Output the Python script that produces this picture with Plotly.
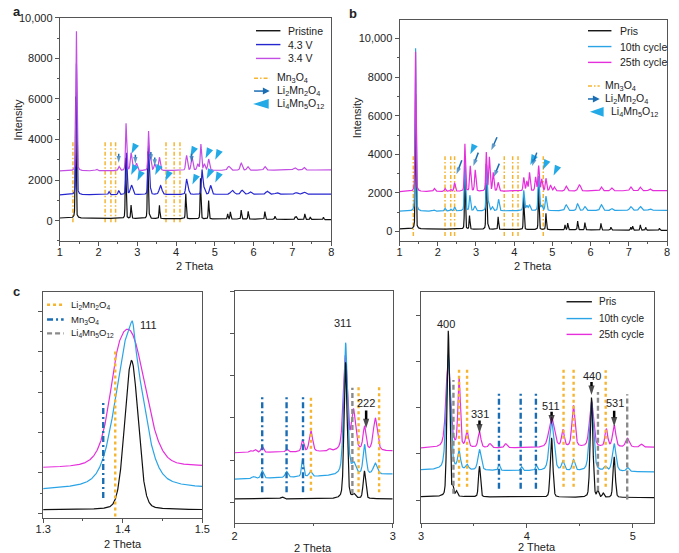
import numpy as np
import plotly.graph_objects as go

W, H = 679, 553
FONT = "Liberation Sans, Arial, sans-serif"

BLACK = "#111111"; BLUE43 = "#2626cf"; VIOL = "#c34ee3"
CYAN = "#2aa4e6"; MAG = "#e62fdc"
ORANGE = "#f6b530"; DBLUE = "#1a6db3"; WEDGE = "#22a9e6"; GRAY = "#8a8a8a"

# ---------------- Panel a data ----------------
a_names = ["Pristine", "4.3 V", "3.4 V"]
a_pri_base = [130, 50]
a_pri_pos = [1.41, 2.70, 2.84, 3.27, 3.31, 3.57, 4.25, 4.63, 4.84, 5.33, 5.40, 5.68, 5.86, 6.29, 6.55, 7.07, 7.10, 7.32, 7.46, 7.80]
a_pri_h = [6000, 3000, 650, 3300, 150, 650, 1250, 2000, 900, 250, 350, 450, 380, 380, 150, 130, 150, 280, 120, 110]
a_pri_w = [0.025] * 20

a_43_base = [1270, 1310]
a_43_pos = [1.43, 2.27, 2.52, 2.72, 2.85, 3.29, 3.33, 3.60, 4.27, 4.32, 4.67, 4.72, 4.89, 5.45, 5.70, 5.91, 6.35, 6.60, 7.10, 7.30]
a_43_h = [6480, 150, 200, 2060, 460, 2400, 300, 440, 740, 200, 1200, 300, 440, 200, 200, 120, 150, 80, 80, 100]
a_43_w = [0.03, 0.04, 0.04, 0.035, 0.07, 0.035, 0.04, 0.08, 0.05, 0.05, 0.04, 0.05, 0.06, 0.1, 0.08, 0.08, 0.08, 0.08, 0.08, 0.08]

a_34_base = [2450, 2500]
a_34_pos = [1.43, 1.95, 2.53, 2.71, 2.84, 2.98, 3.29, 3.34, 3.45, 3.57, 4.27, 4.41, 4.56, 4.64, 4.73, 4.84, 5.36, 5.68, 5.85, 6.29, 7.06, 7.30]
a_34_h = [6890, 80, 200, 2330, 870, 350, 1920, 600, 300, 650, 740, 670, 300, 1280, 300, 550, 200, 350, 180, 180, 120, 130]
a_34_w = [0.03, 0.05, 0.05, 0.035, 0.05, 0.05, 0.035, 0.04, 0.05, 0.05, 0.05, 0.05, 0.05, 0.04, 0.05, 0.05, 0.08, 0.06, 0.06, 0.06, 0.08, 0.06]

a_mn3o4_pos = [1.34, 2.17, 2.32, 2.44, 3.74, 3.95, 4.10]
a_mn3o4_y = [-80, 3950]
a_li2_tip_x = [2.52, 2.95, 3.35, 3.45, 4.40]
a_li2_tip_y = [2860, 2810, 2940, 2700, 2860]
a_li2_tail_y = [3300, 3250, 3380, 3120, 3300]
a_li4_x = [2.85, 4.37, 4.76, 5.01, 2.84, 3.00, 3.46, 3.72, 4.42, 4.79, 5.01]
a_li4_y = [3300, 3150, 3080, 3000, 2250, 1950, 2250, 1950, 1780, 2050, 1880]

# ---------------- Panel b data ----------------
b_names = ["Pris", "10th cycle", "25th cycle"]
b_pri_base = [140, 60]
b_pri_pos = [1.42, 2.71, 2.83, 3.27, 3.31, 3.58, 4.25, 4.64, 4.83, 5.33, 5.40, 5.66, 5.85, 6.27, 6.53, 7.05, 7.10, 7.30, 7.44, 7.80]
b_pri_h = [7000, 3200, 700, 3400, 200, 650, 1700, 2300, 850, 250, 350, 450, 380, 350, 150, 150, 200, 280, 150, 100]
b_pri_w = [0.025] * 20

b_10_base = [1050, 1100]
b_10_pos = [1.42, 1.90, 2.19, 2.34, 2.44, 2.71, 2.84, 2.97, 3.28, 3.33, 3.43, 3.59, 4.25, 4.33, 4.40, 4.64, 4.72, 4.83, 5.36, 5.66, 5.85, 6.28, 6.55, 7.05, 7.30, 7.55]
b_10_h = [8450, 60, 150, 100, 200, 2650, 800, 250, 2350, 400, 200, 600, 1050, 250, 300, 1800, 250, 750, 300, 350, 200, 300, 100, 200, 200, 80]
b_10_w = [0.03, 0.05, 0.04, 0.04, 0.04, 0.035, 0.04, 0.05, 0.035, 0.04, 0.05, 0.045, 0.04, 0.05, 0.05, 0.04, 0.05, 0.045, 0.07, 0.06, 0.06, 0.07, 0.06, 0.07, 0.07, 0.07]

b_25_base = [2070, 2120]
b_25_pos = [1.42, 1.91, 2.19, 2.34, 2.44, 2.71, 2.85, 2.98, 3.27, 3.35, 3.45, 3.58, 4.25, 4.33, 4.40, 4.56, 4.64, 4.72, 4.83, 4.95, 5.05, 5.36, 5.68, 5.72, 6.28, 6.55, 7.05, 7.30, 7.55]
b_25_h = [7250, 150, 150, 100, 450, 2450, 1300, 1100, 2000, 1750, 950, 450, 700, 500, 950, 700, 1300, 600, 650, 300, 200, 250, 250, 250, 200, 150, 200, 180, 100]
b_25_w = [0.03, 0.05, 0.04, 0.04, 0.04, 0.035, 0.04, 0.04, 0.035, 0.04, 0.04, 0.045, 0.04, 0.04, 0.04, 0.04, 0.04, 0.04, 0.04, 0.05, 0.05, 0.06, 0.05, 0.05, 0.06, 0.06, 0.06, 0.06, 0.06]

b_mn3o4_pos = [1.36, 2.19, 2.34, 2.44, 3.74, 3.96, 4.10, 4.76]
b_mn3o4_y = [-230, 3900]
b_li2_tip_x = [2.49, 2.93, 3.40, 3.47, 4.47]
b_li2_tip_y = [2970, 3400, 4210, 2840, 3400]
b_li2_tail_x = [2.63, 3.06, 3.55, 3.61, 4.59]
b_li2_tail_y = [3690, 4090, 4890, 3520, 4090]
b_li4_x = [2.85, 4.42, 4.75, 5.03]
b_li4_y = [4000, 3450, 3200, 2900]

# ---------------- Panel c data (arbitrary units) ----------------
c1_pri = dict(base=[8.7, 8.7], pos=[1.411], h=[151], w=[0.0196], eta=0.15)
c1_10 = dict(base=[28, 29.5], pos=[1.408, 1.4125], h=[158, 18], w=[0.040, 0.006], eta=0.4)
c1_25 = dict(base=[50.5, 52], pos=[1.392, 1.409], h=[25, 135], w=[0.02, 0.045], eta=0.2)
c1_li2 = dict(pos=[1.3906], y0=[2], y1=[170.7])
c1_mn = dict(pos=[1.3755], y0=[20.7], y1=[118])
c1_label = ("111", 1.433, 196)

c2_pri = dict(base=[24.7, 24.7], pos=[2.30, 2.702, 2.755, 2.821], h=[2, 138, 4, 28], w=[0.02, 0.022, 0.02, 0.018], eta=0.3)
c2_10 = dict(base=[44.7, 49.7], pos=[2.12, 2.175, 2.329, 2.43, 2.48, 2.702, 2.755, 2.822, 2.89],
             h=[2, 7.6, 6, 18, 5, 134, 10, 30, 11], w=[0.02, 0.018, 0.02, 0.015, 0.02, 0.028, 0.03, 0.022, 0.03], eta=0.4)
c2_25 = dict(base=[71.3, 73], pos=[2.10, 2.13, 2.175, 2.33, 2.43, 2.483, 2.60, 2.70, 2.752, 2.822, 2.89],
             h=[2, 3, 6, 3, 12, 21, 2, 96, 40, 24, 33], w=[0.02, 0.02, 0.018, 0.02, 0.018, 0.025, 0.02, 0.03, 0.03, 0.022, 0.03], eta=0.4)
c2_mn = dict(pos=[2.175, 2.329, 2.433], y0=[31.3] * 3, y1=[129.7] * 3)
c2_li2 = dict(pos=[2.483, 2.784, 2.914], y0=[33, 31.3, 31.3], y1=[128, 138, 138])
c2_li4 = dict(pos=[2.745], y0=[29.7], y1=[137])
c2_labels = [("311", 2.688, 203), ("222", 2.832, 122)]
c2_arrows = dict(x=[2.832], tip=[96], tail=[114])

c3_pri = dict(base=[27, 26], pos=[3.257, 3.30, 3.335, 3.552, 4.233, 4.61, 4.67, 4.72, 4.824],
              h=[168, 9, 5, 31, 60, 101, 6, 4, 41], w=[0.028, 0.02, 0.02, 0.022, 0.028, 0.03, 0.02, 0.02, 0.025], eta=0.2)
c3_10 = dict(base=[54, 52], pos=[3.257, 3.359, 3.435, 3.552, 3.737, 3.95, 4.09, 4.233, 4.34, 4.44, 4.61, 4.74, 4.824, 4.95],
             h=[117, 18, 5, 21, 6, 4, 5, 50, 9, 11, 70, 4, 28, 4],
             w=[0.045, 0.03, 0.03, 0.035, 0.02, 0.02, 0.02, 0.05, 0.03, 0.03, 0.045, 0.03, 0.04, 0.03], eta=0.4)
c3_25 = dict(base=[76, 77], pos=[3.257, 3.359, 3.435, 3.552, 3.65, 3.80, 4.233, 4.34, 4.44, 4.61, 4.75, 4.824, 4.95, 5.08],
             h=[90, 70, 16, 16, 4, 4, 30, 17, 42, 46, 18, 22, 9, 3],
             w=[0.05, 0.025, 0.03, 0.03, 0.03, 0.03, 0.06, 0.03, 0.035, 0.045, 0.03, 0.035, 0.04, 0.03], eta=0.4)
c3_li4 = dict(pos=[3.306, 4.671, 4.947], y0=[30, 33, 24], y1=[145, 133, 130.6])
c3_li2 = dict(pos=[3.359, 3.435, 4.346, 4.441, 4.744], y0=[37] * 5, y1=[157, 157, 156, 156, 155])
c3_mn = dict(pos=[3.736, 3.941, 4.085], y0=[35] * 3, y1=[133] * 3)
c3_labels = [("400", 3.236, 202), ("331", 3.558, 111), ("511", 4.226, 119), ("440", 4.615, 149), ("531", 4.83, 122)]
c3_arrows = dict(x=[3.552, 4.233, 4.61, 4.824], tip=[91, 100, 130, 98], tail=[104, 113, 143, 114])


def pv(x, pos, h, w, eta):
    y = np.zeros_like(x)
    for c, hh, ww in zip(pos, h, w):
        s = ww / 2.3548
        g = np.exp(-0.5 * ((x - c) / s) ** 2)
        lo = 1.0 / (1.0 + ((x - c) / (ww / 2)) ** 2)
        y += hh * (eta * lo + (1 - eta) * g)
    return y


def curve(x, base, pos, h, w, eta):
    return np.interp(x, [x[0], x[-1]], base) + pv(x, pos, h, w, eta)


def vlines(pos, y0, y1):
    X, Y = [], []
    for p, a, b in zip(pos, y0, y1):
        X += [p, p, None]
        Y += [a, b, None]
    return X, Y


fig = go.Figure()


def line_trace(x, y, color, xa, ya, width=1.2):
    fig.add_trace(go.Scatter(x=x, y=y, mode="lines", line=dict(color=color, width=width),
                             xaxis=xa, yaxis=ya, showlegend=False, hoverinfo="skip"))


def ref_trace(pos, y0, y1, color, dash, width, xa, ya):
    X, Y = vlines(pos, y0, y1)
    fig.add_trace(go.Scatter(x=X, y=Y, mode="lines", line=dict(color=color, dash=dash, width=width),
                             xaxis=xa, yaxis=ya, showlegend=False, hoverinfo="skip"))


def arrow_trace(tx, ty, hx, hy, color, lw, ms, xa, ya):
    X, Y, S = [], [], []
    for a, b, c, d in zip(tx, ty, hx, hy):
        X += [a, c, None]
        Y += [b, d, None]
        S += [0, ms, 0]
    fig.add_trace(go.Scatter(x=X, y=Y, mode="lines+markers", line=dict(color=color, width=lw),
                             marker=dict(symbol="arrow", size=S, angleref="previous", color=color, line=dict(width=0)),
                             xaxis=xa, yaxis=ya, showlegend=False, hoverinfo="skip"))


def wedge_trace(x, y, xa, ya):
    fig.add_trace(go.Scatter(x=x, y=y, mode="markers", xaxis=xa, yaxis=ya, showlegend=False, hoverinfo="skip",
                             marker=dict(symbol="arrow", angle=205, size=11, color=WEDGE, line=dict(width=0))))


# ---- panel a
xa = np.linspace(1, 8, 4001)
ref_trace(a_mn3o4_pos, [a_mn3o4_y[0]] * len(a_mn3o4_pos), [a_mn3o4_y[1]] * len(a_mn3o4_pos), ORANGE, "4px,2px,1.5px,2px", 1.5, "x", "y")
line_trace(xa, curve(xa, a_pri_base, a_pri_pos, a_pri_h, a_pri_w, 0.3), BLACK, "x", "y")
line_trace(xa, curve(xa, a_43_base, a_43_pos, a_43_h, a_43_w, 0.3), BLUE43, "x", "y")
line_trace(xa, curve(xa, a_34_base, a_34_pos, a_34_h, a_34_w, 0.3), VIOL, "x", "y")
wedge_trace(a_li4_x, a_li4_y, "x", "y")
arrow_trace(a_li2_tip_x, a_li2_tail_y, a_li2_tip_x, a_li2_tip_y, DBLUE, 1.5, 7, "x", "y")

# ---- panel b
ref_trace(b_mn3o4_pos, [b_mn3o4_y[0]] * len(b_mn3o4_pos), [b_mn3o4_y[1]] * len(b_mn3o4_pos), ORANGE, "4px,2px,1.5px,2px", 1.5, "x2", "y2")
line_trace(xa, curve(xa, b_pri_base, b_pri_pos, b_pri_h, b_pri_w, 0.3), BLACK, "x2", "y2")
line_trace(xa, curve(xa, b_10_base, b_10_pos, b_10_h, b_10_w, 0.3), CYAN, "x2", "y2")
line_trace(xa, curve(xa, b_25_base, b_25_pos, b_25_h, b_25_w, 0.3), MAG, "x2", "y2")
wedge_trace(b_li4_x, b_li4_y, "x2", "y2")
arrow_trace(b_li2_tail_x, b_li2_tail_y, b_li2_tip_x, b_li2_tip_y, DBLUE, 1.5, 7, "x2", "y2")

# ---- panel c
LW = 2.4
for (xr, pri, c10, c25, refs, xa_, ya_) in [
    ((1.3, 1.5), c1_pri, c1_10, c1_25, [(c1_mn, DBLUE, "6px,3px,2px,3px"), (c1_li2, ORANGE, "dot")], "x3", "y3"),
    ((2.0, 3.0), c2_pri, c2_10, c2_25, [(c2_mn, DBLUE, "6px,3px,2px,3px"), (c2_li2, ORANGE, "dot"), (c2_li4, GRAY, "5px,3px")], "x4", "y4"),
    ((3.0, 5.204), c3_pri, c3_10, c3_25, [(c3_mn, DBLUE, "6px,3px,2px,3px"), (c3_li2, ORANGE, "dot"), (c3_li4, GRAY, "5px,3px")], "x5", "y5"),
]:
    xx = np.linspace(xr[0], xr[1], 3001)
    for d, col in [(c25, MAG), (c10, CYAN), (pri, BLACK)]:
        line_trace(xx, curve(xx, d["base"], d["pos"], d["h"], d["w"], d["eta"]), col, xa_, ya_)
    for r, col, dash in refs:
        ref_trace(r["pos"], r["y0"], r["y1"], col, dash, LW, xa_, ya_)

arrow_trace(c2_arrows["x"], c2_arrows["tail"], c2_arrows["x"], c2_arrows["tip"], "#000", 2.5, 10, "x4", "y4")
arrow_trace(c3_arrows["x"], c3_arrows["tail"], c3_arrows["x"], c3_arrows["tip"], "#000", 2.5, 10, "x5", "y5")

# ---------------- layout ----------------
def dx(l, r):
    return [l / W, r / W]


def dy(t, b):
    return [1 - b / H, 1 - t / H]


axis_common = dict(showline=True, linecolor="#555", linewidth=1, mirror=True, ticks="outside",
                   ticklen=4, tickcolor="#555", tickfont=dict(size=11, color="#222", family=FONT),
                   showgrid=False, zeroline=False)
MINOR = dict(ticks="outside", ticklen=2, tickcolor="#555")

yt_vals = [0, 2000, 4000, 6000, 8000, 10000]
yt_text = ["0", "2000", "4000", "6000", "8000", "10,000"]

layout = dict(
    width=W, height=H, margin=dict(l=0, r=0, t=0, b=0), paper_bgcolor="white", plot_bgcolor="white",
    font=dict(family=FONT, size=11, color="#222"),
    xaxis=dict(domain=dx(53, 331), range=[1, 8], dtick=1, minor=dict(dtick=0.5, **MINOR), anchor="y",
               ticklabelstandoff=-4, **axis_common),
    yaxis=dict(domain=dy(12, 238), range=[-1024, 10000], tickvals=yt_vals, ticktext=yt_text,
               minor=dict(dtick=1000, **MINOR), anchor="x", **axis_common),
    xaxis2=dict(domain=dx(401, 675), range=[1, 8], dtick=1, minor=dict(dtick=0.5, **MINOR), anchor="y2",
                ticklabelstandoff=-4, **axis_common),
    yaxis2=dict(domain=dy(14, 238), range=[-513, 10974], tickvals=yt_vals, ticktext=yt_text,
                minor=dict(dtick=1000, **MINOR), anchor="x2", **axis_common),
    xaxis3=dict(domain=dx(36, 199), range=[1.3, 1.5], tickvals=[1.3, 1.4, 1.5], ticktext=["1.3", "1.4", "1.5"],
                minor=dict(tickvals=[1.35, 1.45], **MINOR), anchor="y3", ticklabelstandoff=-4, **axis_common),
    yaxis3=dict(domain=dy(289, 518), range=[0, 229], tick0=5, dtick=40.9, showticklabels=False,
                minor=dict(tick0=5, dtick=20.45, **MINOR), anchor="x3", **axis_common),
    xaxis4=dict(domain=dx(232, 394), range=[2, 3], tickvals=[2, 3], ticktext=["2", "3"],
                minor=dict(tickvals=[2.5], **MINOR), anchor="y4", ticklabelstandoff=-2, **axis_common),
    yaxis4=dict(domain=dy(288, 523), range=[0, 235], tick0=21.3, dtick=42.67, showticklabels=False, anchor="x4", **axis_common),
    xaxis5=dict(domain=dx(423, 662), range=[3, 5.204], tickvals=[3, 4, 5], ticktext=["3", "4", "5"],
                minor=dict(tickvals=[3.5, 4.5], **MINOR), anchor="y5", ticklabelstandoff=-2, **axis_common),
    yaxis5=dict(domain=dy(289, 523), range=[0, 234.3], tick0=23.6, dtick=46.75, showticklabels=False, anchor="x5", **axis_common),
)
fig.update_layout(**layout)

shapes = []
ann = []


def P(px, py):
    return px / W, 1 - py / H


def text(px, py, s, size=10.5, anchor="left", bold=False, angle=0):
    x, y = P(px, py)
    ann.append(dict(x=x, y=y, xref="paper", yref="paper", text=("<b>%s</b>" % s) if bold else s, showarrow=False,
                    xanchor=anchor, yanchor="middle", textangle=angle,
                    font=dict(size=size, color="#222", family=FONT)))


def pline(x0, x1, py, color, dash="solid", width=1.4):
    a0, b0 = P(x0, py)
    a1, _ = P(x1, py)
    shapes.append(dict(type="line", xref="paper", yref="paper", x0=a0, x1=a1, y0=b0, y1=b0,
                       line=dict(color=color, dash=dash, width=width)))


def ptri(pts, color):
    q = [P(a, b) for a, b in pts]
    path = "M %f %f L %f %f L %f %f Z" % (q[0][0], q[0][1], q[1][0], q[1][1], q[2][0], q[2][1])
    shapes.append(dict(type="path", xref="paper", yref="paper", path=path, fillcolor=color, line=dict(width=0)))


def parrow(x0, x1, py, color):
    pline(x0, x1 - 5, py, color, width=1.5)
    ptri([(x1, py), (x1 - 7, py - 3.5), (x1 - 7, py + 3.5)], color)


def pwedge(x0, x1, py, color):
    ptri([(x0, py), (x1, py - 5), (x1, py + 5)], color)


# panel letters
text(3, 6, "a", size=13, bold=True)
text(347, 8, "b", size=13, bold=True)
text(3, 289, "c", size=13, bold=True)

# axis titles
text(10, 115, "Intensity", size=11, anchor="center", angle=-90)
text(357, 113, "Intensity", size=11, anchor="center", angle=-90)
text(192, 263, "2 Theta", size=11, anchor="center")
text(538, 263, "2 Theta", size=11, anchor="center")
text(118, 544, "2 Theta", size=11, anchor="center")
text(312, 548, "2 Theta", size=11, anchor="center")
text(542, 547, "2 Theta", size=11, anchor="center")

# legend panel a
for name, col, py in zip(a_names, [BLACK, BLUE43, VIOL], [25, 39, 53]):
    pline(254, 279, py, col)
    text(285, py, name)
pline(252, 268, 73, ORANGE, dash="4px,2px,1.5px,2px", width=1.5)
text(273, 73, "Mn<sub>3</sub>O<sub>4</sub>")
parrow(252, 268, 86, DBLUE)
text(273, 86, "Li<sub>2</sub>Mn<sub>2</sub>O<sub>4</sub>")
pwedge(251, 267, 99, WEDGE)
text(273, 99, "Li<sub>4</sub>Mn<sub>5</sub>O<sub>12</sub>")

# legend panel b
for name, col, py in zip(b_names, [BLACK, CYAN, MAG], [25, 41, 57]):
    pline(594, 618, py, col)
    text(625, py, name)
pline(594, 606, 81, ORANGE, dash="4px,2px,1.5px,2px", width=1.5)
text(609, 81, "Mn<sub>3</sub>O<sub>4</sub>")
parrow(594, 606, 94, DBLUE)
text(609, 94, "Li<sub>2</sub>Mn<sub>2</sub>O<sub>4</sub>")
pwedge(596, 610, 107, WEDGE)
text(615, 107, "Li<sub>4</sub>Mn<sub>5</sub>O<sub>12</sub>")

# legend c1
pline(40, 57, 302, ORANGE, dash="dot", width=2.4)
text(62, 302, "Li<sub>2</sub>Mn<sub>2</sub>O<sub>4</sub>", size=9.5)
pline(40, 57, 317, DBLUE, dash="6px,3px,2px,3px", width=2.4)
text(62, 317, "Mn<sub>3</sub>O<sub>4</sub>", size=9.5)
pline(40, 57, 331, GRAY, dash="5px,3px", width=2.4)
text(62, 331, "Li<sub>4</sub>Mn<sub>5</sub>O<sub>12</sub>", size=9.5)

# legend c3
for name, col, py in zip(b_names, [BLACK, CYAN, MAG], [299, 316, 332]):
    pline(572, 598, py, col)
    text(603, py, name, size=10)

# hkl labels in c
ann.append(dict(x=c1_label[1], y=c1_label[2], xref="x3", yref="y3", text=c1_label[0], showarrow=False,
                font=dict(size=11, color="#222", family=FONT)))
for s, x, y in c2_labels:
    ann.append(dict(x=x, y=y, xref="x4", yref="y4", text=s, showarrow=False, font=dict(size=11, color="#222", family=FONT)))
for s, x, y in c3_labels:
    ann.append(dict(x=x, y=y, xref="x5", yref="y5", text=s, showarrow=False, font=dict(size=11, color="#222", family=FONT)))

fig.update_layout(shapes=shapes, annotations=ann)
fig.write_html("out.html", config={"displayModeBar": False},
               post_script="document.body.style.margin='0px';document.body.style.overflow='hidden';")
